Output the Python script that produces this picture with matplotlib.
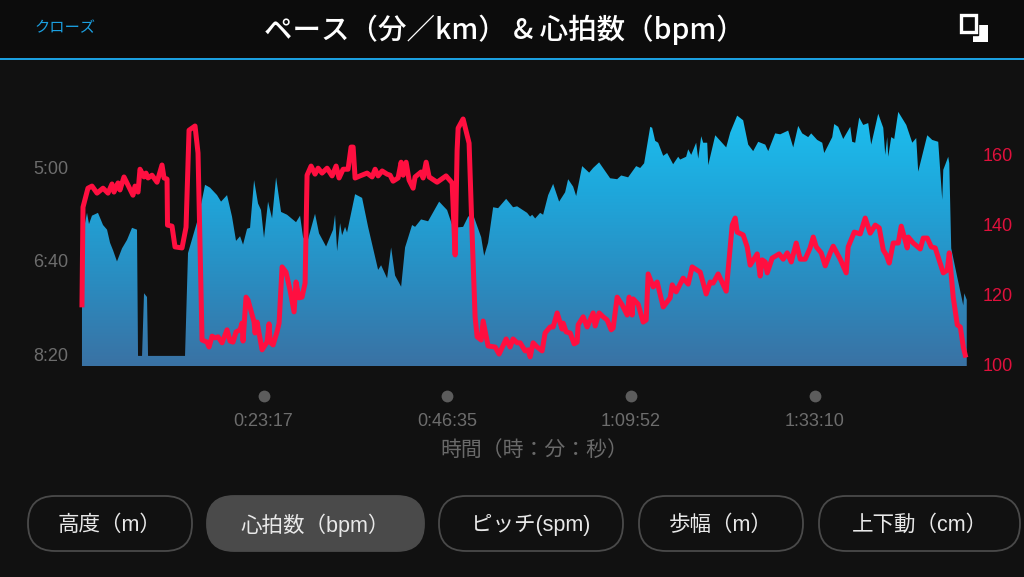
import numpy as np
import matplotlib
matplotlib.use("Agg")
import matplotlib.pyplot as plt
from matplotlib.colors import LinearSegmentedColormap
from matplotlib.patches import FancyBboxPatch, Rectangle
from matplotlib.transforms import blended_transform_factory

plt.rcParams['font.family'] = ['Liberation Sans', 'Noto Sans CJK JP', 'DejaVu Sans']

# pace: minutes into the run, seconds per km
pace_time = [0.25, 0.38, 0.89, 1.14, 1.52, 2.28, 2.92, 3.43, 3.81, 4.19, 4.69, 5.33, 5.96, 6.60, 7.23, 7.36, 7.87,
             8.12, 8.50, 8.63, 13.32, 13.70, 14.84, 15.48, 15.86, 16.49, 17.38, 17.89, 18.65, 19.28, 19.79, 20.30,
             20.68, 21.19, 21.57, 22.08, 22.58, 22.96, 23.34, 23.85, 24.36, 24.87, 25.50, 26.26, 27.40, 27.91, 28.29,
             28.80, 29.81, 30.32, 31.21, 32.10, 32.35, 32.61, 32.99, 33.24, 33.62, 33.87, 34.89, 35.78, 36.54, 37.81,
             38.19, 38.95, 39.46, 39.96, 40.73, 41.23, 42.12, 42.50, 43.26, 44.15, 45.55, 46.56, 47.32, 48.59, 49.23,
             49.86, 50.88, 51.26, 51.76, 52.40, 53.03, 54.05, 54.93, 55.44, 56.71, 57.09, 57.35, 57.73, 58.36, 58.74,
             59.38, 60.01, 60.77, 61.53, 61.91, 62.55, 62.93, 63.69, 64.58, 65.08, 65.84, 67.24, 68.13, 68.64, 69.52,
             70.54, 71.05, 71.55, 72.32, 72.57, 72.95, 73.33, 73.97, 74.47, 75.23, 75.87, 76.12, 76.88, 77.14, 77.52,
             78.15, 78.41, 78.79, 79.04, 79.55, 79.68, 80.57, 81.96, 82.47, 83.35, 84.11, 84.75, 85.38, 86.02, 86.91,
             87.29, 88.17, 88.81, 89.82, 90.46, 91.09, 91.60, 92.36, 92.74, 93.50, 94.14, 94.39, 95.41, 95.66, 96.17,
             96.80, 97.69, 97.94, 98.32, 98.83, 99.34, 99.97, 100.35, 101.24, 101.88, 102.13, 102.38, 102.51, 102.89,
             103.27, 103.78, 104.80, 105.56, 106.06, 106.31, 107.46, 108.09, 108.85, 109.36, 109.49, 110.12, 110.25,
             110.50, 111.27, 112.03, 112.15, 112.47]
pace_sec = [448, 371, 349, 361, 352, 349, 362, 367, 381, 389, 401, 387, 378, 365, 367, 502, 502,
            435, 439, 502, 502, 392, 359, 335, 319, 322, 330, 337, 330, 353, 379, 374,
            383, 366, 365, 314, 339, 346, 376, 337, 355, 311, 348, 351, 359, 352, 375,
            381, 350, 371, 385, 367, 351, 390, 360, 373, 364, 370, 329, 333, 364, 410,
            405, 419, 386, 416, 428, 386, 362, 364, 356, 358, 337, 346, 365, 364, 353,
            351, 375, 395, 381, 343, 344, 334, 343, 342, 349, 353, 351, 355, 349, 351,
            330, 318, 337, 327, 313, 321, 331, 299, 306, 301, 295, 312, 313, 309, 311,
            299, 301, 296, 257, 258, 272, 274, 288, 285, 297, 289, 292, 289, 281, 287,
            274, 291, 267, 274, 274, 298, 266, 279, 263, 245, 250, 276, 283, 273, 276,
            283, 264, 265, 261, 279, 256, 264, 268, 264, 271, 274, 285, 268, 254, 257,
            270, 257, 273, 274, 247, 255, 253, 276, 243, 258, 287, 268, 289, 268,
            270, 241, 255, 274, 269, 305, 266, 271, 273, 335, 303, 289, 296,
            387, 418, 448, 435, 442]

# heart rate: minutes into the run, bpm
hr_time = [0.25, 0.38, 1.01, 1.52, 2.16, 2.92, 3.55, 4.06, 4.31, 4.82, 5.07, 5.58, 6.72, 6.98, 7.36, 7.61, 8.12,
           8.37, 8.63, 9.13, 9.77, 10.40, 10.66, 11.04, 11.10, 11.67, 12.05, 12.94, 13.45, 13.83, 14.59, 14.97,
           15.48, 16.11, 16.37, 16.75, 17.13, 17.51, 18.02, 18.65, 19.03, 19.41, 19.79, 20.30, 20.55, 20.68, 21.06,
           21.31, 22.08, 22.20, 22.46, 23.09, 23.72, 23.98, 24.11, 24.49, 24.99, 25.25, 25.63, 26.13, 26.64, 27.15,
           27.40, 27.78, 28.16, 28.55, 28.80, 29.31, 29.81, 30.20, 30.70, 31.34, 31.97, 32.48, 32.86, 33.37, 34.00,
           34.38, 34.64, 34.89, 35.52, 36.41, 37.05, 37.43, 37.81, 38.32, 38.95, 39.33, 39.71, 40.34, 40.73, 40.98,
           41.36, 41.74, 42.25, 42.50, 43.26, 43.52, 43.90, 44.28, 45.29, 46.43, 47.20, 47.58, 47.83, 47.96, 48.59,
           49.35, 49.73, 50.11, 50.37, 50.88, 51.13, 51.76, 52.65, 53.16, 54.05, 54.55, 54.93, 55.44, 55.82, 56.46,
           56.84, 57.09, 57.47, 57.98, 58.61, 58.99, 59.63, 60.01, 60.52, 61.15, 61.28, 61.66, 62.17, 62.67, 63.05,
           63.18, 63.82, 64.32, 65.08, 65.34, 65.84, 66.35, 66.86, 67.37, 67.62, 68.13, 68.76, 69.40, 69.65, 70.03,
           70.16, 70.79, 71.43, 71.81, 72.06, 72.70, 73.20, 73.97, 74.85, 75.11, 75.61, 76.50, 77.14, 77.64, 78.66,
           79.42, 79.93, 80.31, 80.94, 81.96, 82.72, 83.10, 83.35, 84.11, 84.62, 85.00, 85.89, 86.27, 86.53, 86.91,
           87.16, 87.79, 88.68, 89.19, 89.70, 90.21, 90.84, 91.35, 91.98, 92.60, 93.00, 93.38, 94.01, 94.52, 95.15,
           95.53, 96.42, 97.18, 97.43, 98.20, 98.96, 99.59, 100.23, 100.86, 101.37, 101.88, 102.26, 102.64, 103.14,
           103.78, 104.16, 104.92, 105.05, 105.68, 106.57, 106.95, 107.46, 107.97, 108.47, 109.49, 110.00, 110.25,
           110.75, 111.27, 111.65, 112.03, 112.28]
hr_bpm = [117.1, 144.9, 150.3, 150.9, 148.9, 150.3, 148.9, 151.5, 149.2, 151.8, 149.8, 153.5, 148.3, 150.9, 149.2, 155.7, 153.5,
          154.6, 153.2, 154.0, 152.0, 156.9, 153.2, 152.9, 139.8, 139.5, 133.6, 133.3, 139.2, 166.8, 168.0, 160.3,
          107.1, 106.5, 105.1, 108.2, 107.7, 108.0, 106.3, 110.0, 106.8, 106.5, 109.4, 110.0, 111.9, 106.8, 119.3,
          118.5, 112.2, 109.1, 112.2, 104.3, 106.5, 111.7, 106.5, 105.7, 109.4, 111.9, 127.9, 126.4, 121.3, 115.1,
          123.6, 119.1, 119.3, 123.3, 154.0, 156.6, 154.3, 156.0, 154.6, 156.0, 153.8, 156.6, 153.2, 155.7, 155.7,
          162.0, 162.0, 153.2, 153.8, 154.6, 153.5, 155.7, 153.8, 155.2, 154.3, 154.0, 152.3, 153.2, 157.7, 154.0,
          157.7, 152.6, 150.3, 153.5, 154.9, 153.2, 157.7, 153.5, 152.0, 153.8, 151.8, 131.3, 161.1, 167.4, 170.0,
          163.1, 137.5, 113.7, 108.0, 107.1, 112.5, 105.4, 105.1, 103.1, 107.4, 105.1, 107.4, 106.3, 106.3, 104.0,
          104.3, 102.3, 106.3, 105.1, 104.0, 109.1, 110.8, 110.8, 114.8, 110.2, 111.9, 109.4, 109.1, 106.0, 106.5,
          111.4, 113.7, 110.8, 114.8, 111.1, 114.8, 113.7, 112.8, 110.0, 110.5, 119.3, 117.1, 114.2, 119.3, 114.2,
          118.8, 117.3, 112.2, 112.8, 125.9, 122.2, 123.6, 116.5, 119.1, 122.8, 120.8, 124.7, 123.0, 127.9, 126.4,
          120.2, 123.6, 123.3, 125.9, 121.0, 139.8, 141.8, 137.8, 137.0, 133.6, 128.4, 131.6, 125.3, 129.9, 129.3,
          126.2, 130.4, 131.6, 130.1, 131.9, 129.3, 134.7, 130.1, 130.1, 133.3, 136.4, 133.6, 131.9, 128.2, 131.9,
          133.8, 130.1, 126.2, 133.6, 137.8, 137.3, 141.8, 137.5, 139.8, 139.0, 132.7, 131.3, 129.0, 134.7,
          134.7, 139.5, 133.3, 136.4, 134.7, 133.0, 136.1, 136.1, 133.6, 133.3, 126.2, 127.0, 131.9,
          119.3, 111.4, 110.8, 105.1, 102.8]

pace_ticks = [300, 400, 500]
pace_labels = ['5:00', '6:40', '8:20']
hr_ticks = [100, 120, 140, 160]
time_ticks = [23.28, 46.58, 69.87, 93.17]
time_labels = ['0:23:17', '0:46:35', '1:09:52', '1:33:10']
buttons = ['高度（m）', '心拍数（bpm）', 'ピッチ(spm)', '歩幅（m）', '上下動（cm）']
button_x = [(28, 192), (207, 424), (439, 623), (639, 803), (819, 1020)]

BG = '#111111'
W, H = 1024, 577

fig = plt.figure(figsize=(10.24, 5.77), dpi=100, facecolor=BG)

# full-figure axes in pixels for the app chrome
ui = fig.add_axes([0, 0, 1, 1], zorder=0)
ui.set_xlim(0, W)
ui.set_ylim(H, 0)
ui.axis('off')
ui.add_patch(Rectangle((0, 0), W, 58, color='#0c0c0c', lw=0))
ui.add_patch(Rectangle((0, 58), W, 2, color='#1b9fe0', lw=0))
ui.text(65, 28, 'クローズ', color='#1b9fe0', fontsize=11, ha='center', va='center')
ui.text(504, 30, 'ペース（分／km） & 心拍数（bpm）', color='white', fontsize=20.5, ha='center', va='center',
        family=['Noto Sans CJK JP', 'DejaVu Sans'], fontweight='medium')
ui.add_patch(Rectangle((973, 25), 15, 17, color='white', lw=0))
ui.add_patch(Rectangle((958, 12), 20, 23, facecolor='#0c0c0c', edgecolor='#0c0c0c', lw=1))
ui.add_patch(Rectangle((961, 15), 15, 17, facecolor='#0c0c0c', edgecolor='white', lw=2.4))
ui.text(534, 450, '時間（時：分：秒）', color='#6a6a6a', fontsize=15, ha='center', va='center')

for name, (x0, x1) in zip(buttons, button_x):
    active = name.startswith('心拍数')
    ui.add_patch(FancyBboxPatch((x0 + 27, 496 + 27), x1 - x0 - 54, 1, boxstyle='round,pad=27,rounding_size=27',
                                facecolor='#4a4a4a' if active else 'none',
                                edgecolor='#4a4a4a', lw=1.3))
    ui.text((x0 + x1) / 2, 525, name, color='#e8e8e8', fontsize=15.5, ha='center', va='center')

# chart axes
ax = fig.add_axes([81 / W, 1 - 366 / H, (967 - 81) / W, 266 / H], zorder=1)
ax.patch.set_alpha(0)
for s in ax.spines.values():
    s.set_visible(False)

poly = ax.fill_between(pace_time, pace_sec, 512.8, color='none', lw=0)
cmap = LinearSegmentedColormap.from_list('pace', ['#1cc0f0', '#1fa6da', '#2a8cc0', '#3a72a4'])
grad = np.linspace(0, 1, 256).reshape(-1, 1)
im = ax.imshow(grad, cmap=cmap, aspect='auto', extent=[0, 113, 512.8, 240], zorder=1)
im.set_clip_path(poly.get_paths()[0], transform=ax.transData)

ax.set_xlim(0.127, 112.5)
ax.set_ylim(512.8, 228.3)
ax.set_yticks(pace_ticks)
ax.set_yticklabels(pace_labels)
ax.tick_params(axis='y', length=0, pad=9, labelsize=13, labelcolor='#6d6d6d')
ax.set_xticks(time_ticks)
ax.set_xticklabels(time_labels)
ax.tick_params(axis='x', length=0, pad=33.5, labelsize=13, labelcolor='#6d6d6d')

trans = blended_transform_factory(ax.transData, ax.transAxes)
ax.plot(time_ticks, [-0.113] * len(time_ticks), 'o', color='#5c5c5c', ms=8.5, mew=0, transform=trans, clip_on=False)

# heart rate on the right axis
ax2 = ax.twinx()
ax2.patch.set_alpha(0)
for s in ax2.spines.values():
    s.set_visible(False)
ax2.plot(hr_time, hr_bpm, color='#ff0f40', lw=3.6, solid_joinstyle='round', clip_on=False, zorder=5)
ax2.set_ylim(99.7, 175.4)
ax2.set_yticks(hr_ticks)
ax2.tick_params(axis='y', length=0, pad=11, labelsize=13, labelcolor='#e0103c')

fig.savefig('out.png', dpi=100, facecolor=BG)
